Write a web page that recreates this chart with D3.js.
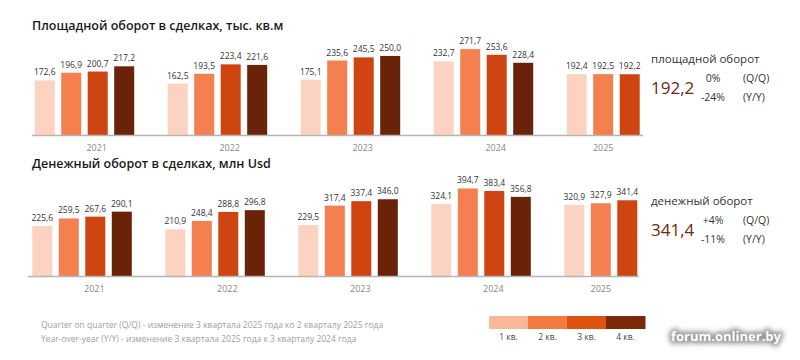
<!DOCTYPE html>
<html>
<head>
<meta charset="utf-8">
<script src="https://cdn.jsdelivr.net/npm/d3@7"></script>
<style>
	body { margin: 0; background: #fff; }
	svg { font-family: "Open Sans", sans-serif; }
</style>
</head>
<body>
<svg id="mainsvg" width="800" height="360"></svg>
<script>
var years = ["2021", "2022", "2023", "2024", "2025"];
var quarters = ["1 кв.", "2 кв.", "3 кв.", "4 кв."];
var colors = ["#fcd3c1", "#f5804f", "#cf4511", "#6a2308"];
var legendColors = ["#fbb897", "#f57a42", "#de510f", "#7a2a0b"];

// площадной оборот, тыс. кв.м (по кварталам)
var areaValues = [
	[172.6, 196.9, 200.7, 217.2],
	[162.5, 193.5, 223.4, 221.6],
	[175.1, 235.6, 245.5, 250.0],
	[232.7, 271.7, 253.6, 228.4],
	[192.4, 192.5, 192.2]
];
// денежный оборот, млн Usd
var moneyValues = [
	[225.6, 259.5, 267.6, 290.1],
	[210.9, 248.4, 288.8, 296.8],
	[229.5, 317.4, 337.4, 346.0],
	[324.1, 394.7, 383.4, 356.8],
	[320.9, 327.9, 341.4]
];

var panels = [
	{ title: "Площадной оборот в сделках, тыс. кв.м", values: areaValues, x0: 34.7, base: 135, k: 0.3162,
	  axis: [32, 643], name: "площадной оборот", last: "192,2", qq: "0%", yy: "-24%", ty: 30, side: 58 },
	{ title: "Денежный оборот в сделках, млн Usd", values: moneyValues, x0: 32.3, base: 276, k: 0.2218,
	  axis: [28, 639], name: "денежный оборот", last: "341,4", qq: "+4%", yy: "-11%", ty: 168, side: 200 }
];

var fmt = function(v) { return d3.format(".1f")(v).replace(".", ","); };
var svg = d3.select("#mainsvg");

panels.forEach(function(p) {
	var g = svg.append("g");

	var x = d3.scaleBand().domain(years).range([p.x0, p.x0 + 133 * years.length]);
	var xq = d3.scaleBand().domain(d3.range(4)).range([0, 99.5]).paddingInner(0.245).paddingOuter(0);
	var maxH = 100;
	var y = d3.scaleLinear().domain([0, maxH / p.k]).range([p.base, p.base - maxH]);

	g.append("text")
		.attr("x", 32).attr("y", p.ty)
		.attr("font-size", 12.5).attr("font-weight", 600).attr("fill", "#1a1a1a")
		.text(p.title);

	var groups = g.selectAll("g.year")
		.data(years)
		.enter().append("g")
		.attr("class", "year")
		.attr("transform", function(d) { return "translate(" + x(d) + ",0)"; });

	groups.selectAll("rect")
		.data(function(d, i) { return p.values[i].map(function(v, j) { return { v: v, q: j }; }); })
		.enter().append("rect")
		.attr("x", function(d) { return xq(d.q); })
		.attr("width", xq.bandwidth())
		.attr("y", function(d) { return y(d.v); })
		.attr("height", function(d) { return y(0) - y(d.v); })
		.attr("fill", function(d) { return colors[d.q]; });

	groups.selectAll("text.val")
		.data(function(d, i) { return p.values[i].map(function(v, j) { return { v: v, q: j }; }); })
		.enter().append("text")
		.attr("class", "val")
		.attr("x", function(d) { return xq(d.q) + xq.bandwidth() / 2; })
		.attr("y", function(d) { return y(d.v) - 5; })
		.attr("text-anchor", "middle")
		.attr("font-size", 8.5).attr("fill", "#333")
		.text(function(d) { return fmt(d.v); });

	groups.append("text")
		.attr("x", function(d, i) {
			var n = p.values[i].length;
			return n === 4 ? 62 : (xq(0) + xq(n - 1) + xq.bandwidth()) / 2;
		})
		.attr("y", p.base + 16)
		.attr("text-anchor", "middle")
		.attr("font-size", 9).attr("fill", "#888")
		.text(function(d) { return d; });

	g.append("line")
		.attr("x1", p.axis[0]).attr("x2", p.axis[1])
		.attr("y1", p.base + 0.5).attr("y2", p.base + 0.5)
		.attr("stroke", "#b5b5b5").attr("stroke-width", 1.5);

	// боковая подпись
	var s = g.append("g").attr("transform", "translate(651," + p.side + ")");
	s.append("text").attr("x", 0).attr("y", 5).attr("font-size", 11.5).attr("fill", "#333").text(p.name);
	s.append("text").attr("x", 0).attr("y", 36).attr("font-size", 17).attr("fill", "#6b2a12").text(p.last);
	s.append("text").attr("x", 62).attr("y", 24).attr("text-anchor", "middle").attr("font-size", 10.5).attr("fill", "#333").text(p.qq);
	s.append("text").attr("x", 62).attr("y", 43).attr("text-anchor", "middle").attr("font-size", 10.5).attr("fill", "#333").text(p.yy);
	s.append("text").attr("x", 92).attr("y", 24).attr("font-size", 10.5).attr("fill", "#333").text("(Q/Q)");
	s.append("text").attr("x", 92).attr("y", 43).attr("font-size", 10.5).attr("fill", "#333").text("(Y/Y)");
});

// легенда
var lx = d3.scaleBand().domain(quarters).range([489, 645]);
var legend = svg.append("g");
legend.selectAll("rect")
	.data(quarters)
	.enter().append("rect")
	.attr("x", function(d) { return lx(d); })
	.attr("y", 316).attr("width", lx.bandwidth() + 0.5).attr("height", 13)
	.attr("fill", function(d, i) { return legendColors[i]; });
legend.selectAll("text")
	.data(quarters)
	.enter().append("text")
	.attr("x", function(d) { return lx(d) + lx.bandwidth() / 2; })
	.attr("y", 340)
	.attr("text-anchor", "middle")
	.attr("font-size", 8.5).attr("fill", "#444")
	.text(function(d) { return d; });

// примечания
var notes = [
	"Quarter on quarter (Q/Q)  - изменение 3 квартала 2025 года ко 2 кварталу 2025 года",
	"Year-over-year (Y/Y) - изменение 3 квартала 2025 года к 3 кварталу 2024 года"
];
svg.selectAll("text.note")
	.data(notes)
	.enter().append("text")
	.attr("class", "note")
	.attr("x", 41).attr("y", function(d, i) { return 328 + i * 14; })
	.attr("font-size", 8.5).attr("fill", "#a0a0a0")
	.text(function(d) { return d; });

// водяной знак
var defs = svg.append("defs");
defs.append("filter").attr("id", "glow").attr("x", "-20%").attr("y", "-50%").attr("width", "140%").attr("height", "200%")
	.append("feGaussianBlur").attr("stdDeviation", 2.5);
svg.append("text")
	.attr("x", 726).attr("y", 341).attr("text-anchor", "middle")
	.attr("font-size", 13).attr("font-weight", 700)
	.attr("fill", "#999").attr("stroke", "#999").attr("stroke-width", 5)
	.attr("filter", "url(#glow)")
	.text("forum.onliner.by");
svg.append("text")
	.attr("x", 726).attr("y", 341).attr("text-anchor", "middle")
	.attr("font-size", 13).attr("font-weight", 700)
	.attr("fill", "#fff")
	.text("forum.onliner.by");
</script>
</body>
</html>
